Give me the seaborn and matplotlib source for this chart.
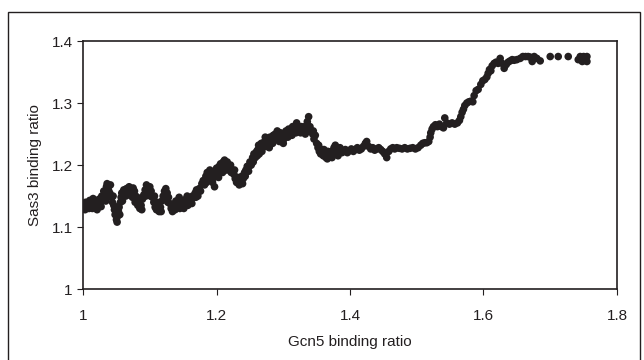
import numpy as np
import pandas as pd
import matplotlib
matplotlib.use("Agg")
import matplotlib.pyplot as plt
import seaborn as sns
from matplotlib.ticker import FormatStrFormatter
from matplotlib.patches import Rectangle

# values (Gcn5 ratio, Sas3 ratio)
gcn5 = [
    1.002, 1.004, 1.006, 1.008, 1.010, 1.012, 1.014, 1.016, 1.018, 1.020,
    1.022, 1.024, 1.026, 1.028, 1.030, 1.031, 1.033, 1.035, 1.036, 1.038,
    1.040, 1.041, 1.043, 1.044, 1.046, 1.047, 1.048, 1.050, 1.051, 1.052,
    1.053, 1.054, 1.056, 1.057, 1.058, 1.060, 1.061, 1.063, 1.065, 1.067,
    1.069, 1.071, 1.073, 1.075, 1.077, 1.079, 1.080, 1.082, 1.084, 1.085,
    1.087, 1.089, 1.091, 1.093, 1.095, 1.097, 1.099, 1.100, 1.102, 1.104,
    1.106, 1.108, 1.110, 1.112, 1.114, 1.116, 1.118, 1.120, 1.122, 1.124,
    1.126, 1.128, 1.130, 1.132, 1.134, 1.136, 1.138, 1.140, 1.142, 1.144,
    1.146, 1.148, 1.150, 1.152, 1.154, 1.156, 1.158, 1.160, 1.162, 1.164,
    1.166, 1.168, 1.170,
    1.003, 1.009, 1.015, 1.021, 1.027, 1.034, 1.039, 1.045, 1.049, 1.055,
    1.059, 1.064, 1.068, 1.074, 1.078, 1.083, 1.088, 1.094, 1.101, 1.107,
    1.111, 1.117, 1.123, 1.127, 1.133, 1.139, 1.145, 1.151, 1.157, 1.163,
    1.169,
    1.172, 1.174, 1.176, 1.178, 1.180, 1.182, 1.184, 1.186, 1.188, 1.190,
    1.192, 1.194, 1.196, 1.198, 1.200, 1.202, 1.204, 1.206, 1.208, 1.210,
    1.212, 1.214, 1.216, 1.218, 1.220, 1.222, 1.224, 1.226, 1.228, 1.230,
    1.232, 1.234, 1.236, 1.238, 1.240, 1.242, 1.244, 1.246, 1.248, 1.250,
    1.252, 1.254, 1.256, 1.258, 1.260, 1.262, 1.264, 1.266, 1.268, 1.270,
    1.272, 1.274, 1.276, 1.278, 1.280, 1.282, 1.284, 1.286, 1.288, 1.290,
    1.292, 1.294, 1.296, 1.298,
    1.185, 1.191, 1.197, 1.203, 1.209, 1.215, 1.221, 1.227, 1.233, 1.239,
    1.243, 1.249, 1.255, 1.261, 1.263, 1.267, 1.273, 1.279, 1.285, 1.291,
    1.300, 1.302, 1.304, 1.306, 1.308, 1.310, 1.312, 1.314, 1.316, 1.318,
    1.320, 1.322, 1.324, 1.326, 1.328, 1.330, 1.332, 1.334, 1.336, 1.338,
    1.340, 1.342, 1.344, 1.346, 1.348, 1.350, 1.352, 1.354, 1.356, 1.358,
    1.360, 1.362, 1.364, 1.366, 1.368, 1.370, 1.372, 1.374, 1.376, 1.378,
    1.380, 1.382, 1.384, 1.386, 1.388, 1.390, 1.393, 1.396, 1.399, 1.402,
    1.405, 1.408, 1.411, 1.414, 1.417, 1.420, 1.423, 1.425, 1.428, 1.431,
    1.434, 1.437, 1.440, 1.443, 1.446, 1.449, 1.452, 1.455, 1.458, 1.461,
    1.464, 1.467, 1.470, 1.474, 1.478, 1.482, 1.486, 1.490, 1.494, 1.498,
    1.502, 1.506, 1.509, 1.512, 1.515, 1.518,
    1.301, 1.307, 1.313, 1.319, 1.327, 1.333, 1.339, 1.345, 1.353, 1.361,
    1.367, 1.373, 1.379, 1.385,
    1.520, 1.521, 1.523, 1.525, 1.528, 1.531, 1.534, 1.537, 1.540, 1.542,
    1.545, 1.549, 1.553, 1.557, 1.561, 1.564, 1.566, 1.568, 1.570, 1.572,
    1.575, 1.578, 1.581, 1.584, 1.586, 1.589, 1.592, 1.596, 1.599, 1.602,
    1.605, 1.607, 1.609, 1.611, 1.613, 1.616, 1.619, 1.622, 1.625, 1.628,
    1.631, 1.634, 1.637, 1.640, 1.643, 1.646, 1.650, 1.655, 1.659, 1.663,
    1.667, 1.670, 1.673, 1.676, 1.680, 1.685, 1.700, 1.712, 1.727, 1.742,
    1.745, 1.748, 1.750, 1.752, 1.755, 1.755,
]
sas3 = [
    1.135, 1.140, 1.132, 1.138, 1.143, 1.135, 1.130, 1.140, 1.137, 1.142,
    1.134, 1.145, 1.140, 1.150, 1.145, 1.158, 1.152, 1.165, 1.170, 1.160,
    1.155, 1.168, 1.148, 1.140, 1.135, 1.128, 1.120, 1.112, 1.108, 1.118,
    1.125, 1.132, 1.140, 1.148, 1.155, 1.150, 1.160, 1.155, 1.162, 1.158,
    1.165, 1.160, 1.155, 1.163, 1.158, 1.150, 1.143, 1.135, 1.140, 1.130,
    1.135, 1.145, 1.152, 1.160, 1.168, 1.162, 1.155, 1.165, 1.158, 1.148,
    1.140, 1.132, 1.128, 1.135, 1.125, 1.132, 1.142, 1.150, 1.158, 1.162,
    1.155, 1.148, 1.138, 1.130, 1.125, 1.132, 1.128, 1.135, 1.142, 1.148,
    1.140, 1.135, 1.142, 1.138, 1.145, 1.150, 1.142, 1.138, 1.145, 1.150,
    1.148, 1.155, 1.160,
    1.128, 1.130, 1.146, 1.128, 1.133, 1.142, 1.150, 1.150, 1.130, 1.120,
    1.142, 1.150, 1.152, 1.148, 1.140, 1.147, 1.128, 1.150, 1.150, 1.150,
    1.140, 1.125, 1.148, 1.140, 1.135, 1.142, 1.130, 1.130, 1.135, 1.138,
    1.148,
    1.150, 1.162, 1.158, 1.170, 1.175, 1.168, 1.182, 1.188, 1.178, 1.192,
    1.185, 1.172, 1.180, 1.190, 1.195, 1.188, 1.198, 1.202, 1.195, 1.205,
    1.208, 1.200, 1.205, 1.198, 1.192, 1.188, 1.192, 1.185, 1.178, 1.172,
    1.180, 1.168, 1.175, 1.182, 1.178, 1.188, 1.192, 1.198, 1.190, 1.205,
    1.200, 1.212, 1.218, 1.212, 1.222, 1.225, 1.218, 1.228, 1.222, 1.232,
    1.238, 1.230, 1.242, 1.236, 1.245, 1.240, 1.235, 1.245, 1.250, 1.242,
    1.248, 1.238, 1.252, 1.245,
    1.172, 1.178, 1.165, 1.180, 1.188, 1.192, 1.200, 1.192, 1.175, 1.170,
    1.182, 1.198, 1.205, 1.215, 1.232, 1.235, 1.245, 1.228, 1.248, 1.255,
    1.235, 1.248, 1.255, 1.250, 1.258, 1.252, 1.258, 1.262, 1.255, 1.260,
    1.268, 1.255, 1.260, 1.252, 1.258, 1.255, 1.262, 1.258, 1.270, 1.278,
    1.262, 1.255, 1.250, 1.242, 1.248, 1.235, 1.228, 1.222, 1.218, 1.225,
    1.215, 1.220, 1.212, 1.210, 1.218, 1.215, 1.222, 1.218, 1.228, 1.232,
    1.222, 1.215, 1.220, 1.225, 1.220, 1.222, 1.225, 1.220, 1.223, 1.226,
    1.222, 1.225, 1.228, 1.224, 1.226, 1.230, 1.235, 1.238, 1.230, 1.226,
    1.228, 1.224, 1.226, 1.228, 1.225, 1.222, 1.218, 1.212, 1.222, 1.226,
    1.228, 1.226, 1.228, 1.227, 1.226, 1.228, 1.226, 1.227, 1.228, 1.226,
    1.228, 1.232, 1.235, 1.236, 1.236, 1.238,
    1.242, 1.245, 1.248, 1.252, 1.262, 1.250, 1.258, 1.255, 1.232, 1.225,
    1.222, 1.212, 1.218, 1.228,
    1.245, 1.252, 1.258, 1.262, 1.265, 1.262, 1.266, 1.262, 1.260, 1.276,
    1.268, 1.266, 1.268, 1.266, 1.268, 1.272, 1.278, 1.285, 1.290, 1.296,
    1.300, 1.302, 1.303, 1.302, 1.312, 1.320, 1.322, 1.330, 1.336, 1.338,
    1.342, 1.348, 1.354, 1.352, 1.360, 1.364, 1.366, 1.364, 1.372, 1.364,
    1.356, 1.362, 1.366, 1.368, 1.370, 1.369, 1.370, 1.372, 1.375, 1.375,
    1.375, 1.374, 1.367, 1.375, 1.372, 1.368, 1.375, 1.375, 1.375, 1.370,
    1.375, 1.367, 1.375, 1.370, 1.375, 1.367,
]

x_ticks = [1, 1.2, 1.4, 1.6, 1.8]
y_ticks = [1, 1.1, 1.2, 1.3, 1.4]

df = pd.DataFrame({"gcn5": gcn5, "sas3": sas3})

sns.set_style("white")
plt.rcParams["font.family"] = ["Liberation Sans", "DejaVu Sans"]

fig = plt.figure(figsize=(6.44, 3.6), dpi=100)
ax = fig.add_axes([0.129, 0.197, 0.829, 0.689])

sns.scatterplot(data=df, x="gcn5", y="sas3", ax=ax, color="#231f20",
                s=30, linewidth=0, edgecolor="none")

ax.set_xlim(1, 1.8)
ax.set_ylim(1, 1.4)
ax.set_xticks(x_ticks)
ax.set_yticks(y_ticks)
ax.xaxis.set_major_formatter(FormatStrFormatter("%g"))
ax.yaxis.set_major_formatter(FormatStrFormatter("%g"))
ax.tick_params(axis="both", direction="out", length=4, width=0.8,
               labelsize=11, colors="#231f20", bottom=True, left=True)
ax.tick_params(axis="x", pad=10)
for sp in ax.spines.values():
    sp.set_color("#231f20")
    sp.set_linewidth(1.2)

ax.set_xlabel("Gcn5 binding ratio", fontsize=11, color="#231f20", labelpad=9)
ax.set_ylabel("Sas3 binding ratio", fontsize=11, color="#231f20", labelpad=7)

# outer frame around the whole chart
fig.patches.append(Rectangle((8 / 644, -0.01), 632 / 644, (360 - 12) / 360 + 0.01,
                             transform=fig.transFigure, fill=False,
                             edgecolor="#231f20", linewidth=1.0))

fig.savefig("out.png", dpi=100)
plt.close(fig)
